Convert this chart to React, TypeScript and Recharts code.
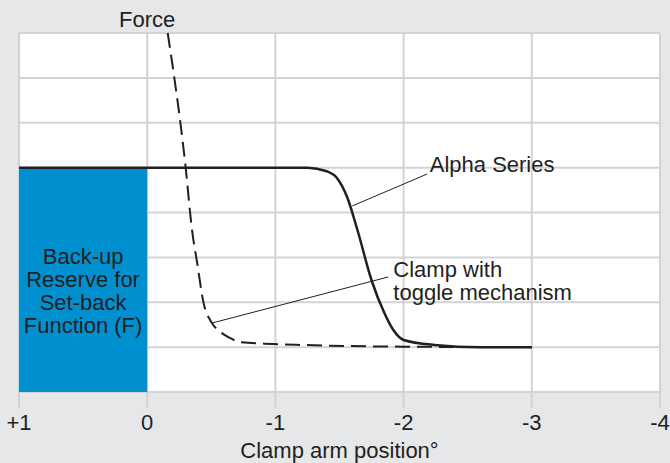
import { ComposedChart, Line, XAxis, YAxis, CartesianGrid, ReferenceArea, ReferenceLine, ReferenceDot } from 'recharts'

const xTicks = [1, 0, -1, -2, -3, -4]
const yTicks = [0, 1, 2, 3, 4, 5, 6, 7, 8]

// Alpha Series (solid)
const alphaX = [1, -1.25, -1.4, -1.48, -1.56, -1.64, -1.75, -1.85, -1.92, -2.0, -2.24, -2.6, -3]
const alphaY = [5, 5, 4.92, 4.77, 4.34, 3.61, 2.49, 1.76, 1.38, 1.16, 1.05, 1.0, 1.0]

// Clamp with toggle mechanism (dashed)
const clampX = [-0.16, -0.3, -0.35, -0.39, -0.44, -0.5, -0.57, -0.65, -0.72, -0.98, -1.19, -2, -3]
const clampY = [8, 5, 3.6, 2.87, 1.98, 1.56, 1.34, 1.2, 1.11, 1.07, 1.05, 1.01, 1.0]

const reserveLines = ['Back-up', 'Reserve for', 'Set-back', 'Function (F)']
const clampLines = ['Clamp with', 'toggle mechanism']

const alphaData = alphaX.map((x, i) => ({ x, y: alphaY[i] }))
const clampData = clampX.map((x, i) => ({ x, y: clampY[i] }))

const FONT = '"Liberation Sans", Arial, sans-serif'
const INK = '#231f20'
const GRID = '#d2d3d5'
const FS = 22

const textLabel = (lines: string[], anchor: 'start' | 'middle', dy: number) => (props: any) => {
  const vb = props.viewBox || {}
  return (
    <text x={vb.x} y={vb.y + dy} fill={INK} fontFamily={FONT} fontSize={FS} textAnchor={anchor}>
      {lines.map((l, i) => (
        <tspan key={i} x={vb.x} dy={i === 0 ? 0 : 23}>{l}</tspan>
      ))}
    </text>
  )
}

const reserveLabel = (props: any) => {
  const vb = props.viewBox || {}
  const cx = vb.x + vb.width / 2
  return (
    <text x={cx} y={vb.y + 96} fill={INK} fontFamily={FONT} fontSize={FS} textAnchor="middle">
      {reserveLines.map((l, i) => (
        <tspan key={i} x={cx} dy={i === 0 ? 0 : 23}>{l}</tspan>
      ))}
    </text>
  )
}

export default function App() {
  return (
    <div style={{ position: 'absolute', left: 0, top: 0, width: 670, height: 463, background: '#e6e7e8' }}>
      <ComposedChart width={670} height={463} margin={{ top: 33, right: 10, left: 19, bottom: 0 }}>
        <CartesianGrid fill="#ffffff" stroke={GRID} strokeWidth={2} />
        <XAxis
          dataKey="x"
          type="number"
          domain={[-4, 1]}
          reversed
          ticks={xTicks}
          tickFormatter={(v: number) => (v > 0 ? `+${v}` : `${v}`)}
          axisLine={false}
          tickLine={{ stroke: GRID, strokeWidth: 2 }}
          tickSize={16}
          tickMargin={6}
          height={71}
          interval={0}
          tick={{ fill: INK, fontFamily: FONT, fontSize: FS }}
          label={{ value: 'Clamp arm position°', position: 'insideBottom', offset: 5, fill: INK, fontFamily: FONT, fontSize: FS }}
          allowDataOverflow
        />
        <YAxis type="number" domain={[0, 8]} ticks={yTicks} hide />
        <ReferenceArea x1={1} x2={0} y1={0} y2={5} fill="#0090d0" fillOpacity={1} stroke="none" label={reserveLabel} />
        <Line data={clampData} dataKey="y" type="monotone" stroke={INK} strokeWidth={2} strokeDasharray="15 7" dot={false} isAnimationActive={false} />
        <Line data={alphaData} dataKey="y" type="monotone" stroke={INK} strokeWidth={2.5} dot={false} isAnimationActive={false} />
        <ReferenceLine segment={[{ x: -1.599, y: 4.145 }, { x: -2.184, y: 4.858 }]} stroke={INK} strokeWidth={1} />
        <ReferenceLine segment={[{ x: -0.507, y: 1.538 }, { x: -1.88, y: 2.563 }]} stroke={INK} strokeWidth={1} />
        <ReferenceDot x={0} y={8} r={0} fill="none" stroke="none" label={textLabel(['Force'], 'middle', -6)} />
        <ReferenceDot x={-2.204} y={4.9} r={0} fill="none" stroke="none" label={textLabel(['Alpha Series'], 'start', 0)} />
        <ReferenceDot x={-1.92} y={2.56} r={0} fill="none" stroke="none" label={textLabel(clampLines, 'start', 0)} />
      </ComposedChart>
    </div>
  )
}
